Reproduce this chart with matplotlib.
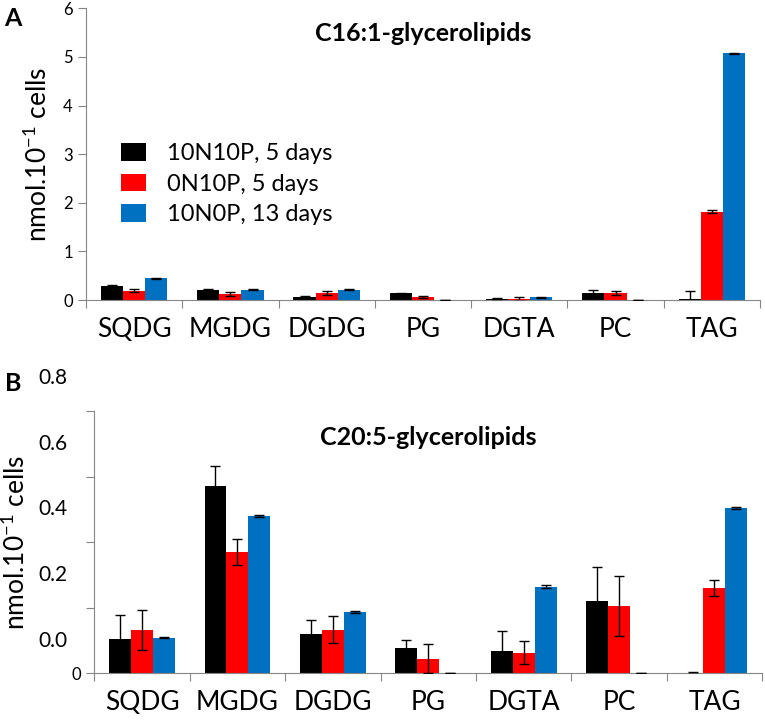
import numpy as np
import matplotlib
matplotlib.use('Agg')
import matplotlib.pyplot as plt

plt.rcParams['font.family'] = ['Lato', 'DejaVu Sans']

lipidos = ['SQDG', 'MGDG', 'DGDG', 'PG', 'DGTA', 'PC', 'TAG']
condiciones = ['10N10P, 5 days', '0N10P, 5 days', '10N0P, 13 days']
colores = ['#000000', '#ff0000', '#0070c0']

# panel A: C16:1-glycerolipids
c16_10n10p = [0.29, 0.21, 0.07, 0.14, 0.03, 0.15, 0.03]
c16_0n10p = [0.19, 0.12, 0.15, 0.07, 0.02, 0.14, 1.82]
c16_10n0p = [0.45, 0.21, 0.21, 0.005, 0.06, 0.0, 5.08]
c16_err_10n10p = [0.02, 0.01, 0.02, 0.01, 0.01, 0.06, 0.15]
c16_err_0n10p = [0.03, 0.04, 0.04, 0.02, 0.05, 0.04, 0.04]
c16_err_10n0p = [0.01, 0.01, 0.01, 0.0, 0.01, 0.0, 0.01]

# panel B: C20:5-glycerolipids
c20_10n10p = [0.105, 0.572, 0.119, 0.076, 0.067, 0.22, 0.0]
c20_0n10p = [0.133, 0.371, 0.133, 0.045, 0.063, 0.206, 0.261]
c20_10n0p = [0.109, 0.48, 0.188, 0.0, 0.264, 0.0, 0.504]
c20_err_10n10p = [0.073, 0.061, 0.044, 0.025, 0.061, 0.103, 0.003]
c20_err_0n10p = [0.061, 0.04, 0.042, 0.045, 0.035, 0.092, 0.024]
c20_err_10n0p = [0.002, 0.002, 0.003, 0.0, 0.004, 0.0, 0.002]

gris = '#868686'
ancho = 0.23
etiqueta_y = 'nmol.10$^{\\mathregular{-1}}$ cells'


def graficar_panel(ax, series, errores, titulo, y_titulo):
    """Dibuja las barras agrupadas con sus barras de error."""
    x = np.arange(len(lipidos))
    for i, (valores, err) in enumerate(zip(series, errores)):
        ax.bar(x + (i - 1) * ancho, valores, ancho, color=colores[i],
               label=condiciones[i], zorder=2)
        ax.errorbar(x + (i - 1) * ancho, valores, yerr=err, fmt='none',
                    ecolor='black', elinewidth=1, capsize=3.5, capthick=1, zorder=3)
    ax.set_xlim(-0.5, len(lipidos) - 0.5)
    ax.set_xticks(np.arange(-0.5, len(lipidos), 1.0))
    ax.set_xticklabels([])
    ax.set_xticks(x, minor=True)
    ax.set_xticklabels(lipidos, minor=True, fontsize=19)
    ax.tick_params(axis='x', which='major', direction='out', length=6, color=gris)
    ax.tick_params(axis='x', which='minor', length=0, pad=12)
    ax.tick_params(axis='y', direction='out', length=6, color=gris)
    for lado in ['top', 'right']:
        ax.spines[lado].set_visible(False)
    for lado in ['left', 'bottom']:
        ax.spines[lado].set_color(gris)
    ax.set_title(titulo, fontsize=18, fontweight='bold', y=y_titulo)


fig = plt.figure(figsize=(7.65, 7.24), dpi=100)

ax_a = fig.add_axes([0.1124, 0.5856, 0.881, 0.4029])
graficar_panel(ax_a, [c16_10n10p, c16_0n10p, c16_10n0p],
               [c16_err_10n10p, c16_err_0n10p, c16_err_10n0p], 'C16:1-glycerolipids', 0.86)
ax_a.set_ylim(0, 6)
ax_a.set_yticks(range(0, 7))
ax_a.tick_params(axis='y', labelsize=12)
ax_a.set_ylabel(etiqueta_y, fontsize=19, labelpad=8)
ax_a.legend(loc='upper left', bbox_to_anchor=(0.02, 0.61), frameon=False,
            fontsize=17, handlelength=1.05, handleheight=0.75, labelspacing=0.4,
            handletextpad=0.9)

ax_b = fig.add_axes([0.1233, 0.0700, 0.873, 0.3623])
graficar_panel(ax_b, [c20_10n10p, c20_0n10p, c20_10n0p],
               [c20_err_10n10p, c20_err_0n10p, c20_err_10n0p], 'C20:5-glycerolipids', 0.84)
ax_b.set_ylim(0, 0.8)
ax_b.set_yticks([0, 0.2, 0.4, 0.6, 0.8])
ax_b.set_yticklabels(['0', '', '', '', ''], fontsize=12)
# las etiquetas del original estan corridas medio intervalo hacia arriba
for pos, txt in zip([0.1, 0.3, 0.5, 0.7, 0.9], ['0.0', '0.2', '0.4', '0.6', '0.8']):
    ax_b.text(-0.04, pos, txt, transform=ax_b.get_yaxis_transform(),
              ha='right', va='center', fontsize=15, clip_on=False)
ax_b.set_ylabel(etiqueta_y, fontsize=19, labelpad=30)

fig.text(0.006, 0.975, 'A', fontsize=18, fontweight='bold', va='center')
fig.text(0.006, 0.470, 'B', fontsize=18, fontweight='bold', va='center')

plt.savefig('out.png', dpi=100)
